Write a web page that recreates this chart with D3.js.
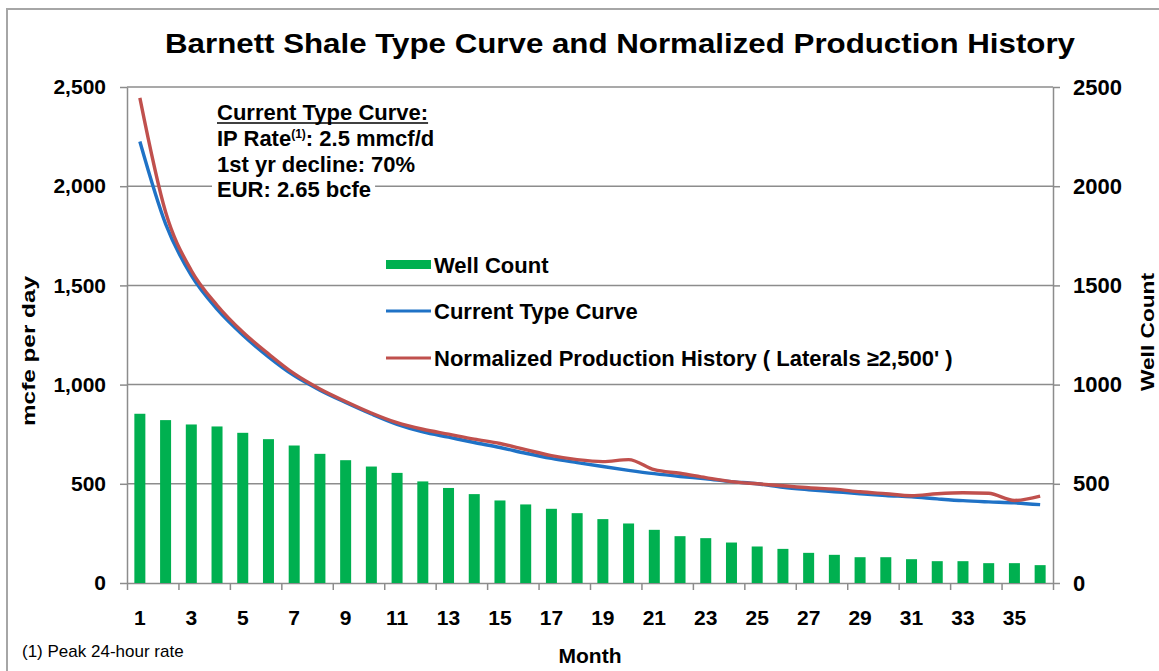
<!DOCTYPE html>
<html>
<head>
<meta charset="utf-8">
<script src="https://cdn.jsdelivr.net/npm/d3@7"></script>
<style>
  body { margin: 0; background: #fff; }
  text { font-family: "Liberation Sans", Arial, sans-serif; fill: #000; }
</style>
</head>
<body>
<svg id="chart" width="1159" height="671"></svg>
<script>
// ---- data ----
var months = d3.range(1, 37);
var wellCount = [853, 821, 799, 789, 757, 725, 693, 651, 619, 587, 555, 512,
                 479, 448, 416, 396, 374, 352, 322, 300, 268, 236, 226, 204,
                 184, 172, 152, 142, 130, 130, 120, 110, 110, 100, 100, 90];
var typeCurve = [2225, 1810, 1550, 1380, 1250, 1140, 1045, 972, 910, 852, 800, 762,
                 735, 708, 683, 654, 628, 607, 587, 568, 551, 537, 525, 511,
                 500, 482, 470, 460, 450, 441, 434, 424, 415, 409, 404, 395];
var normalizedHistory = [2445, 1870, 1575, 1400, 1265, 1155, 1055, 978, 915, 857, 808, 775,
                         750, 725, 703, 672, 642, 622, 612, 622, 571, 553, 531, 511,
                         500, 490, 480, 473, 460, 450, 440, 450, 455, 452, 416, 438];
var leftTicks = [0, 500, 1000, 1500, 2000, 2500];
var rightTicks = [0, 500, 1000, 1500, 2000, 2500];
var monthLabels = d3.range(1, 37, 2);

var titleText = "Barnett Shale Type Curve and Normalized Production History";
var legendItems = [
  { label: "Well Count", kind: "bar", color: "#00b050" },
  { label: "Current Type Curve", kind: "line", color: "#1f72c6" },
  { label: "Normalized Production History ( Laterals \u22652,500' )", kind: "line", color: "#c0504d" }
];

var svg = d3.select("#chart");
var plotLeft = 127, plotRight = 1053, plotTop = 87, plotBottom = 583;

svg.append("rect").attr("width", 1159).attr("height", 671).attr("fill", "#fff");

// outer frame
svg.append("rect")
  .attr("x", 7).attr("y", 9).attr("width", 1170).attr("height", 700)
  .attr("fill", "none").attr("stroke", "#a6a6a6").attr("stroke-width", 2);

// scales
var x = d3.scaleBand().domain(months).range([plotLeft, plotRight]).padding(0);
var xTick = d3.scaleLinear().domain([0, 36]).range([plotLeft, plotRight]);
var yLeft = d3.scaleLinear().domain([0, 2500]).range([plotBottom, plotTop]);
var yRight = d3.scaleLinear().domain([0, 2500]).range([plotBottom, plotTop]);

// gridlines
svg.append("g").selectAll("line")
  .data(leftTicks.filter(function (d) { return d > 0; }))
  .enter().append("line")
  .attr("x1", plotLeft).attr("x2", plotRight)
  .attr("y1", function (d) { return yLeft(d); })
  .attr("y2", function (d) { return yLeft(d); })
  .attr("stroke", "#8c8c8c").attr("stroke-width", 1.5);

// left axis
var gl = svg.append("g").attr("transform", "translate(" + plotLeft + ",0)")
  .call(d3.axisLeft(yLeft).tickValues(leftTicks).tickSize(7).tickSizeOuter(0)
    .tickPadding(14).tickFormat(d3.format(",")));
gl.selectAll("text").style("font-size", "21px").style("font-weight", "bold");

// right axis
var gr = svg.append("g").attr("transform", "translate(" + plotRight + ",0)")
  .call(d3.axisRight(yRight).tickValues(rightTicks).tickSize(7).tickSizeOuter(0)
    .tickPadding(13).tickFormat(d3.format("d")));
gr.selectAll("text").style("font-size", "22px").style("font-weight", "bold");

// bottom ticks (every 2 months) and labels
var gb = svg.append("g").attr("transform", "translate(0," + plotBottom + ")")
  .call(d3.axisBottom(xTick).tickValues(d3.range(0, 37, 2)).tickSize(7)
    .tickSizeOuter(0).tickFormat(""));
var gbl = svg.append("g").attr("transform", "translate(0," + plotBottom + ")")
  .call(d3.axisBottom(x).tickValues(monthLabels).tickSize(0).tickPadding(27));
gbl.select(".domain").remove();
gbl.selectAll("text").style("font-size", "21px").style("font-weight", "bold");

[gl, gr, gb].forEach(function (g) {
  g.selectAll("line, path").attr("stroke", "#8c8c8c").attr("stroke-width", 1.5);
});

// bars
var barW = 11;
svg.append("g").selectAll("rect")
  .data(wellCount)
  .enter().append("rect")
  .attr("x", function (d, i) { return x(months[i]) + x.bandwidth() / 2 - barW / 2; })
  .attr("y", function (d) { return yRight(d); })
  .attr("width", barW)
  .attr("height", function (d) { return plotBottom - yRight(d); })
  .attr("fill", "#00b050");

// lines (excel-style smoothed)
var line = d3.line()
  .x(function (d, i) { return x(months[i]) + x.bandwidth() / 2; })
  .y(function (d) { return yLeft(d); })
  .curve(d3.curveMonotoneX);

svg.append("path").datum(typeCurve)
  .attr("d", line).attr("fill", "none")
  .attr("stroke", legendItems[1].color).attr("stroke-width", 3.4)
  .attr("stroke-linejoin", "round");
svg.append("path").datum(normalizedHistory)
  .attr("d", line).attr("fill", "none")
  .attr("stroke", legendItems[2].color).attr("stroke-width", 3.4)
  .attr("stroke-linejoin", "round");

// title
svg.append("text")
  .attr("x", 620).attr("y", 53)
  .attr("text-anchor", "middle")
  .attr("textLength", 910).attr("lengthAdjust", "spacingAndGlyphs")
  .style("font-size", "28px").style("font-weight", "bold")
  .text(titleText);

// axis titles
svg.append("text")
  .attr("transform", "translate(35,351) rotate(-90)")
  .attr("text-anchor", "middle")
  .attr("textLength", 150).attr("lengthAdjust", "spacingAndGlyphs")
  .style("font-size", "19px").style("font-weight", "bold")
  .text("mcfe per day");
svg.append("text")
  .attr("transform", "translate(1154,332) rotate(-90)")
  .attr("text-anchor", "middle")
  .attr("textLength", 118).attr("lengthAdjust", "spacingAndGlyphs")
  .style("font-size", "19px").style("font-weight", "bold")
  .text("Well Count");
svg.append("text")
  .attr("x", (plotLeft + plotRight) / 2).attr("y", 663)
  .attr("text-anchor", "middle")
  .style("font-size", "21px").style("font-weight", "bold")
  .text("Month");

// footnote
svg.append("text")
  .attr("x", 22).attr("y", 657)
  .style("font-size", "17px")
  .text("(1) Peak 24-hour rate");

// annotation box
var ann = svg.append("g");
var annY = [120, 145.5, 171.5, 197];
var annRows = [];
annRows.push(ann.append("text").attr("x", 217).attr("y", annY[0])
  .style("font-size", "22px").style("font-weight", "bold").text("Current Type Curve:"));
var ip = ann.append("text").attr("x", 217).attr("y", annY[1])
  .style("font-size", "22px").style("font-weight", "bold");
ip.append("tspan").text("IP Rate");
ip.append("tspan").attr("dy", -8).style("font-size", "12px").text("(1)");
ip.append("tspan").attr("dy", 8).text(": 2.5 mmcf/d");
annRows.push(ip);
annRows.push(ann.append("text").attr("x", 217).attr("y", annY[2])
  .style("font-size", "22px").style("font-weight", "bold").text("1st yr decline: 70%"));
annRows.push(ann.append("text").attr("x", 217).attr("y", annY[3])
  .style("font-size", "22px").style("font-weight", "bold").text("EUR: 2.65 bcfe"));

annRows.forEach(function (t) {
  var b = t.node().getBBox();
  ann.insert("rect", "text")
    .attr("x", b.x - 5).attr("y", b.y - 1)
    .attr("width", b.width + 9).attr("height", b.height + 2)
    .attr("fill", "#fff");
});
var b0 = annRows[0].node().getBBox();
ann.append("line")
  .attr("x1", b0.x).attr("x2", b0.x + b0.width)
  .attr("y1", annY[0] + 3).attr("y2", annY[0] + 3)
  .attr("stroke", "#000").attr("stroke-width", 1.6);

// legend
var legendRowY = [264.5, 311, 358];
var lg = svg.append("g");
legendItems.forEach(function (item, i) {
  var cy = legendRowY[i];
  if (item.kind === "bar") {
    lg.append("rect").attr("x", 386).attr("y", cy - 4.5)
      .attr("width", 45).attr("height", 9).attr("fill", item.color);
  } else {
    lg.append("line").attr("x1", 386).attr("x2", 431)
      .attr("y1", cy).attr("y2", cy)
      .attr("stroke", item.color).attr("stroke-width", 3.2);
  }
  lg.append("text")
    .attr("x", 434).attr("y", cy + 8)
    .style("font-size", "22px").style("font-weight", "bold")
    .text(item.label);
});
</script>
</body>
</html>
